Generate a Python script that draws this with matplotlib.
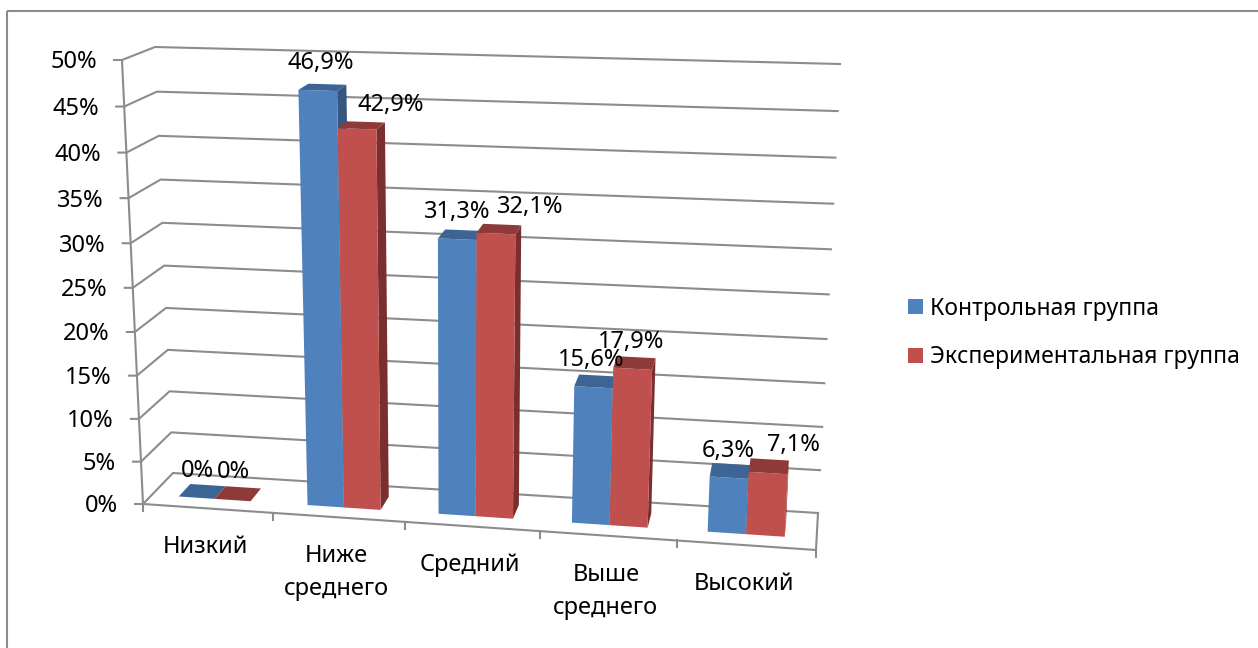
"""3D-look clustered columns drawn on a plain 2D axes, pixel-sized canvas."""
import matplotlib

matplotlib.use("Agg")
import matplotlib.pyplot as plt
import numpy as np
from matplotlib.patches import Polygon, Rectangle

CATEGORIES = ["Низкий", "Ниже\nсреднего", "Средний", "Выше\nсреднего", "Высокий"]
SERIES_NAMES = ["Контрольная группа", "Экспериментальная группа"]
CONTROL = [0.0, 46.9, 31.3, 15.6, 6.3]
EXPERIMENT = [0.0, 42.9, 32.1, 17.9, 7.1]
CONTROL_LABELS = ["0%", "46,9%", "31,3%", "15,6%", "6,3%"]
EXPERIMENT_LABELS = ["0%", "42,9%", "32,1%", "17,9%", "7,1%"]
TICKS = [0, 5, 10, 15, 20, 25, 30, 35, 40, 45, 50]

VMAX = 50.0
# corners of the plot box on the canvas: (category side, value side, depth side)
CORNERS = {
    (0, 0, 0): (143, 504), (1, 0, 0): (816, 550),
    (0, 1, 0): (122, 60), (1, 1, 0): (841, 82),
    (0, 0, 1): (173, 473), (1, 0, 1): (818, 513),
    (0, 1, 1): (155, 47), (1, 1, 1): (840, 64),
}
GX = 0.045  # perspective squeeze along categories
GV = 0.054  # perspective squeeze along values
BAR_X = (0.21, 0.49, 0.77)
BAR_D = (0.30, 0.70)

FRONT = ["#4F81BD", "#C0504D"]
TOP = ["#3C6494", "#8E3A38"]
SIDE = ["#37567F", "#7A2F2E"]
GRID = "#8C8C8C"
FONT = "Noto Sans"

# label nudges in pixels from the top of each column
CONTROL_NUDGE = [(-10, -14), (-7, -21), (-7, -18), (-7, -15), (-3, -13)]
EXPERIMENT_NUDGE = [(-10, -15), (25, -17), (28, -18), (-5, -15), (24, -14)]


def warp(t, g):
    return t / (1 + g * (1 - t))


def proj(x, v, d=0.0):
    """Category position x, value v, depth d (0 front, 1 back) to canvas pixels."""
    u = warp(x / len(CATEGORIES), GX)
    s = warp(v / VMAX, GV)
    out = np.zeros(2)
    for (a, b, c), p in CORNERS.items():
        w = (u if a else 1 - u) * (s if b else 1 - s) * (d if c else 1 - d)
        out += w * np.array(p)
    return out


def column(ax, x0, x1, v, d0, d1, i):
    kw = dict(linewidth=0, zorder=3)
    if v > 0:
        side = [proj(x1, 0, d0), proj(x1, 0, d1), proj(x1, v, d1), proj(x1, v, d0)]
        ax.add_patch(Polygon(side, facecolor=SIDE[i], **kw))
        front = [proj(x0, 0, d0), proj(x1, 0, d0), proj(x1, v, d0), proj(x0, v, d0)]
        ax.add_patch(Polygon(front, facecolor=FRONT[i], **kw))
    top = [proj(x0, v, d0), proj(x1, v, d0), proj(x1, v, d1), proj(x0, v, d1)]
    ax.add_patch(Polygon(top, facecolor=TOP[i], **kw))


fig = plt.figure(figsize=(12.58, 6.48), dpi=100)
ax = fig.add_axes([0, 0, 1, 1])
ax.set_xlim(0, 1258)
ax.set_ylim(648, 0)
ax.axis("off")

# outer frame, runs off the canvas on the right and bottom
ax.add_patch(Rectangle((7, 11), 1400, 800, fill=False, edgecolor=GRID, linewidth=1.5))

n = len(CATEGORIES)
for t in TICKS:
    pts = np.array([proj(0, t, 0) + (-8, 0), proj(0, t, 0), proj(0, t, 1), proj(n, t, 1)])
    ax.plot(pts[:, 0], pts[:, 1], color=GRID, lw=1.5, zorder=1, solid_joinstyle="miter")
    ax.text(*(proj(0, t, 0) + (-25, 2.5)), f"{t}%", ha="right", va="center",
            fontsize=17, family=FONT, color="black")

# value axis, floor front edge and right edge
pts = np.array([proj(0, VMAX, 0), proj(0, 0, 0), proj(n, 0, 0), proj(n, 0, 1)])
ax.plot(pts[:, 0], pts[:, 1], color=GRID, lw=1.5, zorder=2)
for i in range(n + 1):
    pts = np.array([proj(i, 0, 0), proj(i, 0, 0) + (0, 7)])
    ax.plot(pts[:, 0], pts[:, 1], color=GRID, lw=1.5, zorder=2)

for i in range(n):
    column(ax, i + BAR_X[0], i + BAR_X[1], CONTROL[i], *BAR_D, 0)
    column(ax, i + BAR_X[1], i + BAR_X[2], EXPERIMENT[i], *BAR_D, 1)
    pos = proj(i + 0.5, 0, 0) + (-2, 27)
    ax.text(pos[0], pos[1], CATEGORIES[i], ha="center", va="top", fontsize=17,
            family=FONT, color="black", linespacing=1.5)
    for vals, labels, nudge, xc in [
        (CONTROL, CONTROL_LABELS, CONTROL_NUDGE, BAR_X[0] + 0.14),
        (EXPERIMENT, EXPERIMENT_LABELS, EXPERIMENT_NUDGE, BAR_X[1] + 0.14),
    ]:
        pos = proj(i + xc, vals[i], BAR_D[1]) + nudge[i]
        ax.text(pos[0], pos[1], labels[i], ha="center", va="center", fontsize=17,
                family=FONT, color="black", zorder=4)

handles = [Rectangle((0, 0), 1, 1, facecolor=c, linewidth=0) for c in FRONT]
ax.legend(handles, SERIES_NAMES, loc="center left", bbox_to_anchor=(908 / 1258, 1 - 333 / 648),
          frameon=False, prop={"family": FONT, "size": 16.5}, handlelength=0.655, handleheight=0.655,
          handletextpad=0.3, labelspacing=1.09, borderpad=0, borderaxespad=0)

fig.savefig("out.png", dpi=100)
